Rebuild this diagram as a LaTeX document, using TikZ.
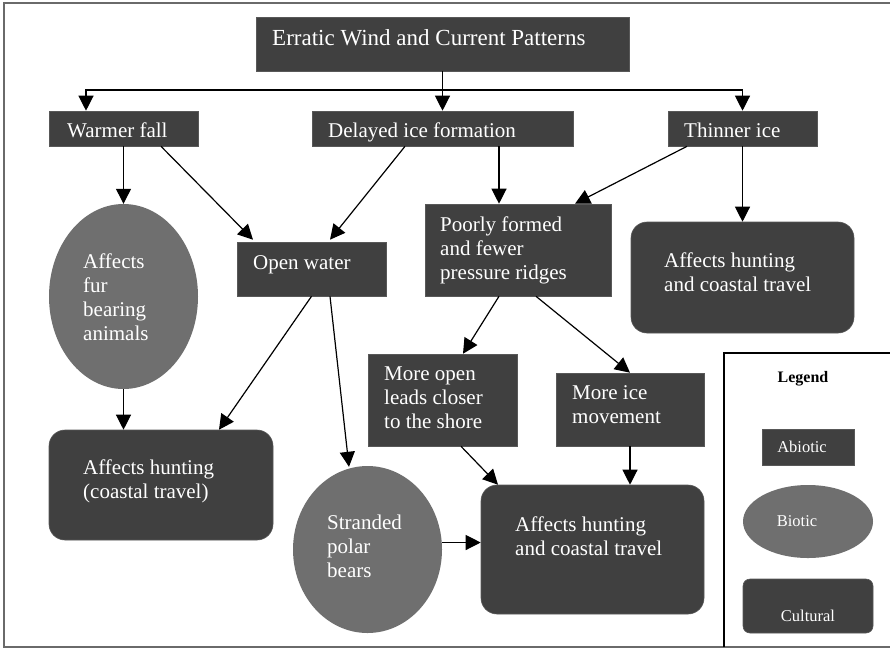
\documentclass[tikz,border=0pt]{standalone}
\usepackage{fontspec}
\setmainfont{Liberation Serif}
\usetikzlibrary{arrows.meta,shapes.geometric}
\definecolor{boxfill}{HTML}{404040}
\definecolor{boxedge}{HTML}{585858}
\definecolor{ovalfill}{HTML}{6F6F6F}
\definecolor{framegray}{HTML}{6A6A6A}
\tikzset{
  abiotic/.style={draw=boxedge, line width=0.6pt, fill=boxfill, inner sep=0pt, rectangle},
  cultural/.style={abiotic, rounded corners=16pt},
  biotic/.style={fill=ovalfill, draw=none, inner sep=0pt, ellipse},
  % text labels are placed by the baseline of their last line
  lbl/.style={text=white, inner sep=0pt, align=left, anchor=base west,
              font=\rmfamily\fontsize{21}{24}\selectfont},
  legtxt/.style={inner sep=0pt, anchor=base, font=\rmfamily\fontsize{16.5}{20}\selectfont},
  arr/.style={line width=1.2pt, -{Triangle[length=15pt,width=15pt]}},
}
\begin{document}
\begin{tikzpicture}[x=1pt,y=-1pt]
\useasboundingbox (0,0) rectangle (890,649);
\fill[white] (0,0) rectangle (890,649);
% outer frame
\draw[framegray, line width=1.2pt] (890,3) -- (4,3) -- (4,647) -- (890,647);

% ---- abiotic boxes ----
\node[abiotic, minimum width=373pt, minimum height=54pt] (title) at (442.5,44) {};
\node[lbl, font=\rmfamily\fontsize{23}{26}\selectfont] (title-t) at (272,45) {Erratic Wind and Current Patterns};

\node[abiotic, minimum width=149pt, minimum height=35pt] (warmer) at (123.5,128.5) {};
\node[lbl] (warmer-t) at (67,137) {Warmer fall};

\node[abiotic, minimum width=261pt, minimum height=35pt] (delayed) at (442.5,128.5) {};
\node[lbl] (delayed-t) at (328,137) {Delayed ice formation};

\node[abiotic, minimum width=149pt, minimum height=35pt] (thinner) at (742.5,128.5) {};
\node[lbl] (thinner-t) at (684,137) {Thinner ice};

\node[abiotic, minimum width=149pt, minimum height=54pt] (openw) at (311.5,269) {};
\node[lbl] (openw-t) at (253,269) {Open water};

\node[abiotic, minimum width=186pt, minimum height=92pt] (poorly) at (518,250) {};
\node[lbl] (poorly-t) at (440,279) {Poorly formed\\and fewer\\pressure ridges};

\node[abiotic, minimum width=149pt, minimum height=92pt] (moreopen) at (442.5,400) {};
\node[lbl] (moreopen-t) at (384,428) {More open\\leads closer\\to the shore};

\node[abiotic, minimum width=148pt, minimum height=73pt] (moreice) at (630,409.5) {};
\node[lbl] (moreice-t) at (572,423) {More ice\\movement};

% ---- biotic ovals ----
\node[biotic, minimum width=149pt, minimum height=185pt] (fur) at (123.5,296.5) {};
\node[lbl] (fur-t) at (83,340) {Affects\\fur\\bearing\\animals};

\node[biotic, minimum width=149pt, minimum height=167pt] (stranded) at (367.5,549.5) {};
\node[lbl] (stranded-t) at (327,577) {Stranded\\polar\\bears};

% ---- cultural boxes ----
\node[cultural, minimum width=223pt, minimum height=111pt] (huntTR) at (742.5,277.5) {};
\node[lbl] (huntTR-t) at (664,291) {Affects hunting\\and coastal travel};

\node[cultural, minimum width=224pt, minimum height=110pt] (huntL) at (161,485) {};
\node[lbl] (huntL-t) at (83,498) {Affects hunting\\(coastal travel)};

\node[cultural, minimum width=223pt, minimum height=129pt] (huntB) at (592.5,549.5) {};
\node[lbl] (huntB-t) at (515,555) {Affects hunting\\and coastal travel};

% ---- connectors ----
\coordinate (split) at (442.5,90);
\draw[arr] (title) -- (delayed);
\draw[arr] (title.south |- split) -| ([xshift=-37.5pt]warmer.north);
\draw[arr] (split) -| (thinner.north);

\draw[arr] (warmer.south) -- (fur.north);
\draw[arr] ([xshift=37.5pt]warmer.south) -- ([xshift=-58.5pt,yshift=2pt]openw.north);
\draw[arr] ([xshift=-37.5pt]delayed.south) -- ([xshift=18.5pt,yshift=2pt]openw.north);
\draw[arr] ([xshift=56.5pt]delayed.south) -- ([xshift=-19pt]poorly.north);
\draw[arr] ([xshift=-55.5pt]thinner.south) -- ([xshift=57pt]poorly.north);
\draw[arr] (thinner.south) -- (huntTR.north);

\draw[arr] (fur.south) -- ([xshift=-37.5pt]huntL.north);
\draw[arr] (openw.south) -- ([xshift=58pt]huntL.north);
\draw[arr] ([xshift=18.5pt]openw.south) -- ([xshift=-18.5pt,yshift=-1pt]stranded.north);

\draw[arr] ([xshift=-19pt]poorly.south) -- ([xshift=20.5pt]moreopen.north);
\draw[arr] ([xshift=18pt]poorly.south) -- (moreice.north);
\draw[arr] ([xshift=18.5pt]moreopen.south) -- ([xshift=-94.5pt]huntB.north);
\draw[arr] (moreice.south) -- ([xshift=37.5pt]huntB.north);
\draw[arr] ([yshift=7pt]stranded.east) -- ([yshift=7pt]huntB.west);

% ---- legend ----
\draw[black, line width=1.5pt] (724,647) |- (890,353);
\node[legtxt, font=\rmfamily\fontsize{16}{20}\selectfont\bfseries] (legend-t) at (803,382) {Legend};
\node[abiotic, minimum width=92pt, minimum height=36pt] (key-abiotic) at (808,447) {};
\node[legtxt, text=white] (key-abiotic-t) at (802,452) {Abiotic};
\node[biotic, minimum width=130pt, minimum height=73pt] (key-biotic) at (808,521.5) {};
\node[legtxt, text=white] (key-biotic-t) at (797,526) {Biotic};
\node[abiotic, rounded corners=7pt, minimum width=130pt, minimum height=54pt] (key-cultural) at (808,606) {};
\node[legtxt, text=white] (key-cultural-t) at (808,621) {Cultural};
\end{tikzpicture}
\end{document}
